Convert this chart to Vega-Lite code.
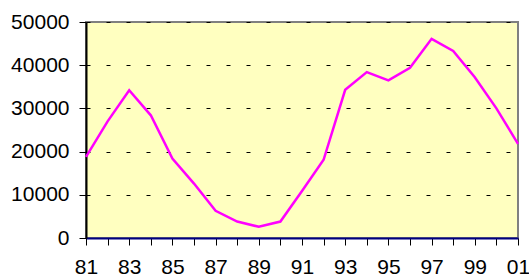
{
  "$schema": "https://vega.github.io/schema/vega-lite/v6.json",
  "width": 432,
  "height": 216,
  "autosize": {"type": "none"},
  "padding": {"left": 86, "top": 22, "right": 11, "bottom": 41},
  "background": "white",
  "config": {
    "view": {"fill": "#FFFFC0", "stroke": "#808080", "strokeWidth": 2},
    "axis": {"labelFont": "Liberation Sans", "labelFontSize": 21, "labelColor": "black", "tickColor": "black", "tickSize": 7, "tickWidth": 1, "title": null}
  },
  "data": {
    "values": [
      {"year": 1981, "value": 18800},
      {"year": 1982, "value": 27000},
      {"year": 1983, "value": 34200},
      {"year": 1984, "value": 28400},
      {"year": 1985, "value": 18400},
      {"year": 1986, "value": 12600},
      {"year": 1987, "value": 6300},
      {"year": 1988, "value": 3800},
      {"year": 1989, "value": 2600},
      {"year": 1990, "value": 3800},
      {"year": 1991, "value": 10900},
      {"year": 1992, "value": 18100},
      {"year": 1993, "value": 34300},
      {"year": 1994, "value": 38400},
      {"year": 1995, "value": 36500},
      {"year": 1996, "value": 39400},
      {"year": 1997, "value": 46100},
      {"year": 1998, "value": 43300},
      {"year": 1999, "value": 37200},
      {"year": 2000, "value": 30000},
      {"year": 2001, "value": 21800}
    ]
  },
  "mark": {"type": "line", "color": "#FF00FF", "strokeWidth": 2.5},
  "encoding": {
    "x": {
      "field": "year",
      "type": "quantitative",
      "scale": {"domain": [1981, 2001], "nice": false, "zero": false},
      "axis": {
        "values": [1981,1982,1983,1984,1985,1986,1987,1988,1989,1990,1991,1992,1993,1994,1995,1996,1997,1998,1999,2000,2001],
        "labelExpr": "datum.value % 2 == 1 ? slice(toString(datum.value), 2) : ''",
        "labelOverlap": false,
        "labelFlush": false,
        "labelPadding": 11,
        "grid": false,
        "domainColor": "#000080",
        "domainWidth": 2
      }
    },
    "y": {
      "field": "value",
      "type": "quantitative",
      "scale": {"domain": [0, 50000], "nice": false},
      "axis": {
        "values": [0, 10000, 20000, 30000, 40000, 50000],
        "format": "d",
        "labelPadding": 10,
        "grid": true,
        "gridColor": "black",
        "gridDash": [4, 16],
        "gridWidth": 1,
        "gridOpacity": 1,
        "domainColor": "black",
        "domainWidth": 2
      }
    }
  }
}
